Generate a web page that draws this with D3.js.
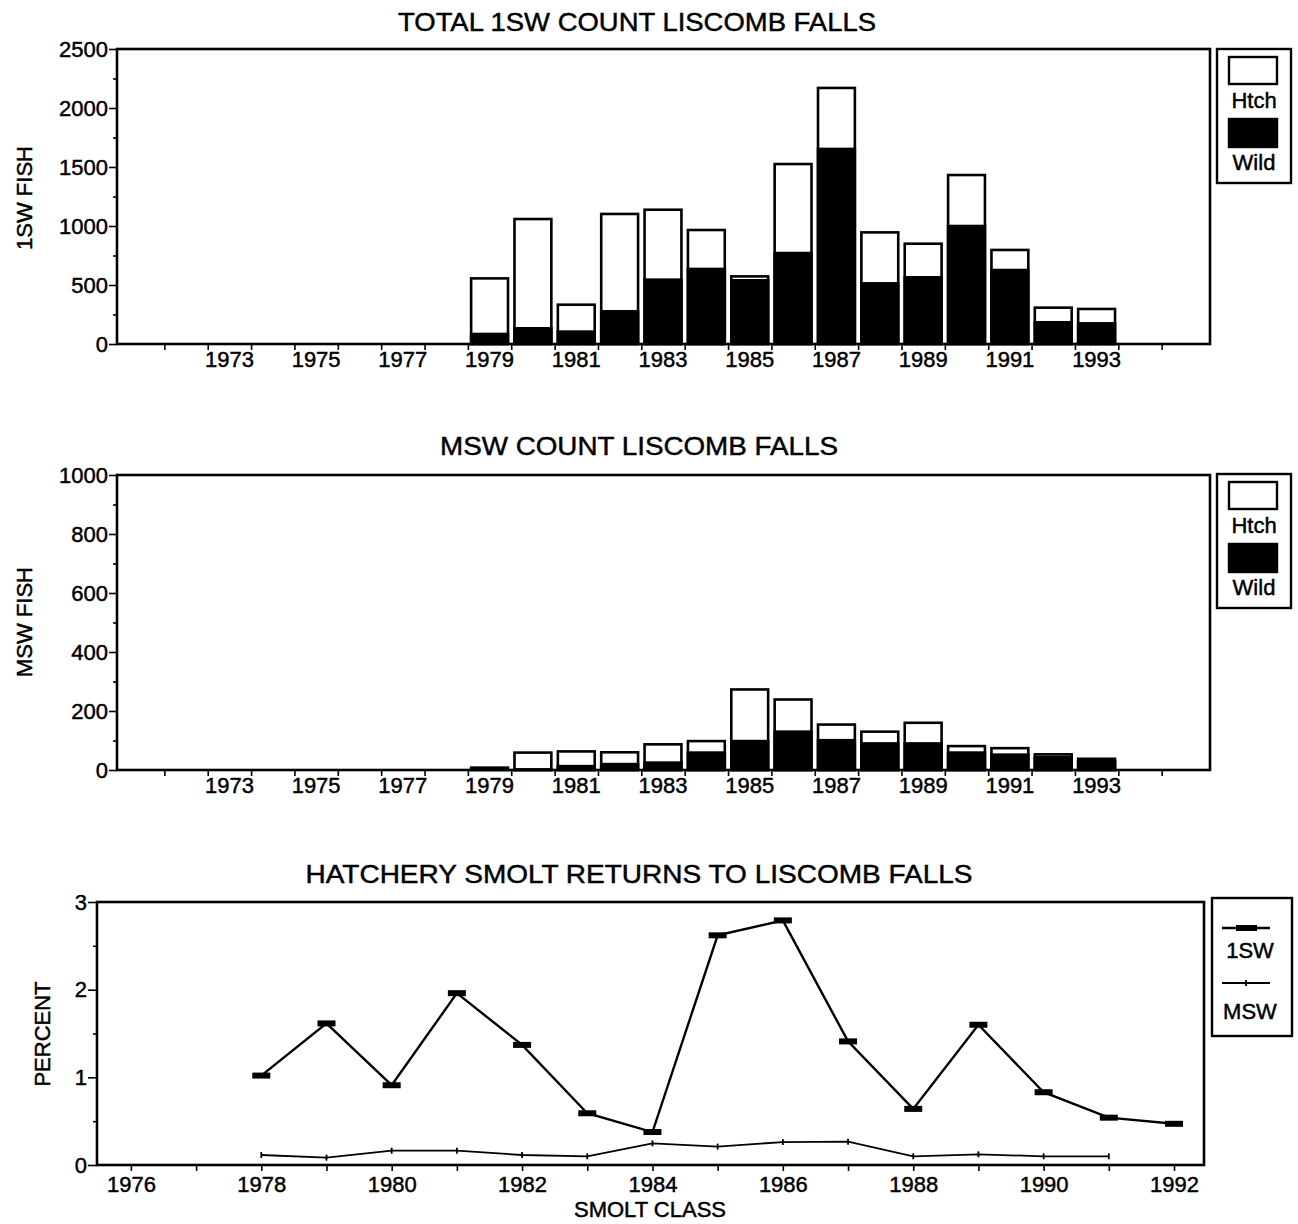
<!DOCTYPE html>
<html>
<head>
<meta charset="utf-8">
<script src="https://cdn.jsdelivr.net/npm/d3@7"></script>
<style>
  body { margin: 0; background: #fff; }
  svg { display: block; }
  text { font-family: "Liberation Sans", Arial, sans-serif; fill: #000; stroke: #000; stroke-width: 0.45px; }
</style>
</head>
<body>
<script>
// return years of the fish counts
const barYears = [1979, 1980, 1981, 1982, 1983, 1984, 1985, 1986, 1987, 1988, 1989, 1990, 1991, 1992, 1993];
const yearLabels = [1973, 1975, 1977, 1979, 1981, 1983, 1985, 1987, 1989, 1991, 1993];
const wild1SW  = [85, 133, 105, 277, 545, 636, 540, 771, 1653, 514, 565, 1000, 627, 184, 175];
const hatch1SW = [471, 926, 228, 825, 593, 330, 33, 754, 517, 432, 285, 432, 170, 124, 122];
const wildMSW  = [0, 2, 13, 20, 25, 59, 98, 130, 101, 90, 90, 59, 52, 44, 30];
const hatchMSW = [8, 57, 50, 40, 62, 39, 175, 109, 53, 40, 70, 22, 22, 9, 8];
const ticks1SW = [0, 500, 1000, 1500, 2000, 2500];
const minor1SW = [250, 750, 1250, 1750, 2250];
const ticksMSW = [0, 200, 400, 600, 800, 1000];
const minorMSW = [100, 300, 500, 700, 900];

// smolt class returns (percent)
const smoltYears = [1978, 1979, 1980, 1981, 1982, 1983, 1984, 1985, 1986, 1987, 1988, 1989, 1990, 1991, 1992];
const pct1SW = [1.02, 1.615, 0.91, 1.96, 1.37, 0.59, 0.376, 2.62, 2.79, 1.41, 0.64, 1.6, 0.83, 0.54, 0.47];
const smoltYearsMSW = [1978, 1979, 1980, 1981, 1982, 1983, 1984, 1985, 1986, 1987, 1988, 1989, 1990, 1991];
const pctMSW = [0.114, 0.084, 0.163, 0.163, 0.114, 0.099, 0.247, 0.21, 0.262, 0.266, 0.099, 0.122, 0.099, 0.099];
const pctTicks = [0, 1, 2, 3];
const pctMinor = [0.5, 1.5, 2.5];
const smoltTicks = [1976, 1977, 1978, 1979, 1980, 1981, 1982, 1983, 1984, 1985, 1986, 1987, 1988, 1989, 1990, 1991, 1992];

const width = 1298, height = 1224;
const svg = d3.select('body').append('svg').attr('width', width).attr('height', height);
const FONT = '"Liberation Sans", Arial, sans-serif';
const fmt = d3.format('d');

function styleAxis(g, size) {
  g.attr('font-family', FONT).attr('font-size', size);
  g.select('.domain').remove();
  g.selectAll('line').attr('stroke', '#000').attr('stroke-width', 1.6);
  g.selectAll('text').attr('fill', '#000');
}

function barPanel(o) {
  const g = svg.append('g');
  const left = 117, right = 1210;
  const y = d3.scaleLinear().domain([0, o.max]).range([o.y0, o.y1]);
  const yearsAll = d3.range(1971, 1996);
  const xl = d3.scaleLinear().domain([1971, 1996]).range([121, 1205]);
  const xb = d3.scaleBand().domain(yearsAll).range([121, 1205]).paddingInner(0.15).paddingOuter(0.075);

  // title
  g.append('text').attr('x', o.titleX).attr('y', o.titleY).attr('text-anchor', 'middle')
    .attr('font-size', 26).attr('textLength', o.titleW).attr('lengthAdjust', 'spacingAndGlyphs')
    .text(o.title);

  // y axis
  const ya = g.append('g').attr('transform', `translate(${left},0)`)
    .call(d3.axisLeft(y).tickValues(o.ticks).tickSize(8).tickPadding(1).tickFormat(fmt));
  styleAxis(ya, 22);
  const ym = g.append('g').attr('transform', `translate(${left},0)`)
    .call(d3.axisLeft(y).tickValues(o.minor).tickSize(4).tickFormat(''));
  styleAxis(ym, 22);

  // x axis: ticks at year boundaries, labels centred in the year
  const xt = g.append('g').attr('transform', `translate(0,${o.y0})`)
    .call(d3.axisBottom(xl).tickValues(d3.range(1972, 1996)).tickSize(6).tickFormat(''));
  styleAxis(xt, 22);
  const xa = g.append('g').attr('transform', `translate(0,${o.y0})`)
    .call(d3.axisBottom(xb).tickValues(yearLabels).tickSize(0).tickPadding(7));
  styleAxis(xa, 22);

  // y label
  g.append('text').attr('transform', `translate(24,${o.labelY}) rotate(-90)`)
    .attr('text-anchor', 'middle').attr('dominant-baseline', 'central')
    .attr('font-size', 22).text(o.ylabel);

  // bars
  const data = barYears.map((yr, i) => ({ yr, wild: o.wild[i], hatch: o.hatch[i] }));
  const bars = g.append('g');
  bars.selectAll('rect.tot').data(data).enter().append('rect')
    .attr('class', 'tot')
    .attr('x', d => xb(d.yr)).attr('width', xb.bandwidth())
    .attr('y', d => y(d.wild + d.hatch)).attr('height', d => y(0) - y(d.wild + d.hatch))
    .attr('fill', '#fff').attr('stroke', '#000').attr('stroke-width', 2.6);
  bars.selectAll('rect.wild').data(data).enter().append('rect')
    .attr('class', 'wild')
    .attr('x', d => xb(d.yr)).attr('width', xb.bandwidth())
    .attr('y', d => y(d.wild)).attr('height', d => y(0) - y(d.wild))
    .attr('fill', '#000').attr('stroke', '#000').attr('stroke-width', 2.6);

  // frame
  g.append('rect').attr('x', left).attr('y', o.y1).attr('width', right - left).attr('height', o.y0 - o.y1)
    .attr('fill', 'none').attr('stroke', '#000').attr('stroke-width', 2.6);

  // legend
  const lg = g.append('g').attr('transform', `translate(1217,${o.legY})`);
  lg.append('rect').attr('x', 0).attr('y', 0).attr('width', 74).attr('height', 134)
    .attr('fill', '#fff').attr('stroke', '#000').attr('stroke-width', 2.4);
  lg.append('rect').attr('x', 12).attr('y', 8).attr('width', 48).attr('height', 27)
    .attr('fill', '#fff').attr('stroke', '#000').attr('stroke-width', 2.4);
  lg.append('text').attr('x', 37).attr('y', 59).attr('text-anchor', 'middle').attr('font-size', 22).text('Htch');
  lg.append('rect').attr('x', 12).attr('y', 70).attr('width', 48).attr('height', 28)
    .attr('fill', '#000').attr('stroke', '#000').attr('stroke-width', 2.4);
  lg.append('text').attr('x', 37).attr('y', 121).attr('text-anchor', 'middle').attr('font-size', 22).text('Wild');
}

barPanel({
  title: 'TOTAL 1SW COUNT LISCOMB FALLS', titleX: 637, titleY: 31, titleW: 478,
  ylabel: '1SW FISH', labelY: 198,
  y0: 344, y1: 49, max: 2500, ticks: ticks1SW, minor: minor1SW,
  wild: wild1SW, hatch: hatch1SW, legY: 49
});
barPanel({
  title: 'MSW COUNT LISCOMB FALLS', titleX: 639, titleY: 455, titleW: 398,
  ylabel: 'MSW FISH', labelY: 622,
  y0: 770, y1: 475, max: 1000, ticks: ticksMSW, minor: minorMSW,
  wild: wildMSW, hatch: hatchMSW, legY: 474
});

// ---- line chart: hatchery smolt returns
(function () {
  const g = svg.append('g');
  const left = 97, right = 1204, top = 902, bottom = 1165;
  const x = d3.scaleLinear().domain([1975.48, 1992.46]).range([left, right]);
  const y = d3.scaleLinear().domain([0, 3]).range([bottom, top]);

  g.append('text').attr('x', 639).attr('y', 883).attr('text-anchor', 'middle')
    .attr('font-size', 26).attr('textLength', 667).attr('lengthAdjust', 'spacingAndGlyphs')
    .text('HATCHERY SMOLT RETURNS TO LISCOMB FALLS');

  const ya = g.append('g').attr('transform', `translate(${left},0)`)
    .call(d3.axisLeft(y).tickValues(pctTicks).tickSize(9).tickPadding(1).tickFormat(fmt));
  styleAxis(ya, 22);
  const ym = g.append('g').attr('transform', `translate(${left},0)`)
    .call(d3.axisLeft(y).tickValues(pctMinor).tickSize(4).tickFormat(''));
  styleAxis(ym, 22);
  const xa = g.append('g').attr('transform', `translate(0,${bottom})`)
    .call(d3.axisBottom(x).tickValues(smoltTicks).tickSize(6).tickPadding(5)
      .tickFormat(d => d % 2 === 0 ? String(d) : ''));
  styleAxis(xa, 22);

  g.append('text').attr('transform', `translate(42,1034) rotate(-90)`)
    .attr('text-anchor', 'middle').attr('dominant-baseline', 'central')
    .attr('font-size', 22).text('PERCENT');
  g.append('text').attr('x', 650).attr('y', 1217).attr('text-anchor', 'middle')
    .attr('font-size', 22).text('SMOLT CLASS');

  const d1 = smoltYears.map((yr, i) => ({ yr, v: pct1SW[i] }));
  const d2 = smoltYearsMSW.map((yr, i) => ({ yr, v: pctMSW[i] }));
  const line = d3.line().x(d => x(d.yr)).y(d => y(d.v));

  g.append('path').datum(d2).attr('d', line).attr('fill', 'none').attr('stroke', '#000').attr('stroke-width', 1.8);
  g.selectAll('line.msw').data(d2).enter().append('line').attr('class', 'msw')
    .attr('x1', d => x(d.yr)).attr('x2', d => x(d.yr))
    .attr('y1', d => y(d.v) - 3).attr('y2', d => y(d.v) + 3)
    .attr('stroke', '#000').attr('stroke-width', 1.8);

  g.append('path').datum(d1).attr('d', line).attr('fill', 'none').attr('stroke', '#000').attr('stroke-width', 2.4);
  g.selectAll('rect.m1').data(d1).enter().append('rect').attr('class', 'm1')
    .attr('x', d => x(d.yr) - 9).attr('y', d => y(d.v) - 3).attr('width', 18).attr('height', 6)
    .attr('fill', '#000');

  g.append('rect').attr('x', left).attr('y', top).attr('width', right - left).attr('height', bottom - top)
    .attr('fill', 'none').attr('stroke', '#000').attr('stroke-width', 2.6);

  // legend
  const lg = g.append('g').attr('transform', 'translate(1212,898)');
  lg.append('rect').attr('x', 0).attr('y', 0).attr('width', 80).attr('height', 138)
    .attr('fill', '#fff').attr('stroke', '#000').attr('stroke-width', 2.4);
  lg.append('line').attr('x1', 10).attr('x2', 58).attr('y1', 30).attr('y2', 30).attr('stroke', '#000').attr('stroke-width', 2.4);
  lg.append('rect').attr('x', 24).attr('y', 27).attr('width', 21).attr('height', 6).attr('fill', '#000');
  lg.append('text').attr('x', 38).attr('y', 60).attr('text-anchor', 'middle').attr('font-size', 22).text('1SW');
  lg.append('line').attr('x1', 10).attr('x2', 58).attr('y1', 85).attr('y2', 85).attr('stroke', '#000').attr('stroke-width', 1.8);
  lg.append('line').attr('x1', 34).attr('x2', 34).attr('y1', 82).attr('y2', 88).attr('stroke', '#000').attr('stroke-width', 1.8);
  lg.append('text').attr('x', 38).attr('y', 121).attr('text-anchor', 'middle').attr('font-size', 22).text('MSW');
})();
</script>
</body>
</html>
